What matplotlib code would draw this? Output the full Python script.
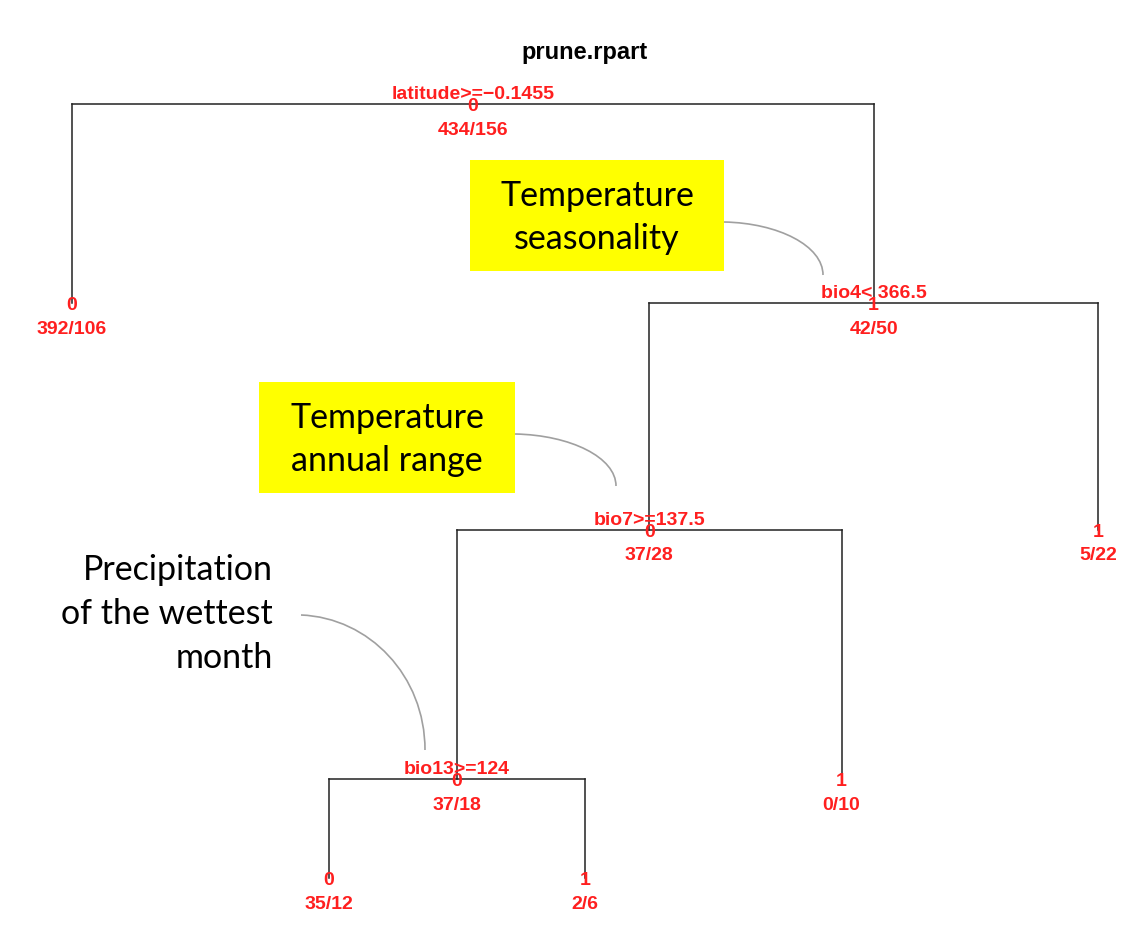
import matplotlib.pyplot as plt
from matplotlib.path import Path
from matplotlib.patches import PathPatch, Rectangle

# rpart tree (node numbering as in rpart: children of n are 2n and 2n+1)
node_ids = [1, 2, 3, 6, 7, 12, 13, 24, 25]
split_labels = {1: "latitude>=\u22120.1455", 3: "bio4< 366.5",
                6: "bio7>=137.5", 12: "bio13>=124"}
class_labels = ["0", "0", "1", "0", "1", "0", "1", "0", "1"]
counts = ["434/156", "392/106", "42/50", "37/28", "5/22",
          "37/18", "0/10", "35/12", "2/6"]
# node heights in tree units (non-uniform spacing from plot.rpart)
node_y = [1.0, 0.743, 0.743, 0.450, 0.450, 0.128, 0.128, 0.0, 0.0]

labels = dict(zip(node_ids, class_labels))
ns = dict(zip(node_ids, counts))
ys = dict(zip(node_ids, node_y))

# leaves spaced evenly left-to-right, parents sit midway over children
xs = {}
leaf_pos = [0]


def layout(n):
    if 2 * n not in ys:
        leaf_pos[0] += 1
        xs[n] = leaf_pos[0]
    else:
        layout(2 * n)
        layout(2 * n + 1)
        xs[n] = (xs[2 * n] + xs[2 * n + 1]) / 2


layout(1)

W, H = 1128, 938
fig = plt.figure(figsize=(W / 100, H / 100), dpi=100)
ax = fig.add_axes([0, 0, 1, 1])
ax.set_xlim(0.719, 5.117)
ax.set_ylim(-0.0775, 1.134)
ax.axis("off")

red = "#ff1f1f"
font = "Liberation Sans"

for n in node_ids:
    x, y = xs[n], ys[n]
    if n in split_labels:
        l, r = 2 * n, 2 * n + 1
        ax.plot([xs[l], xs[r]], [y, y], color="#222222", lw=1.1)
        ax.plot([xs[l], xs[l]], [y, ys[l]], color="#222222", lw=1.1)
        ax.plot([xs[r], xs[r]], [y, ys[r]], color="#222222", lw=1.1)
        ax.annotate(split_labels[n], (x, y), xytext=(0, 3.5), textcoords="offset points",
                    ha="center", va="baseline", color=red, fontsize=14,
                    fontweight="bold", family=[font, "DejaVu Sans"])
    ax.annotate(labels[n], (x, y), xytext=(0, -2), textcoords="offset points",
                ha="center", va="center", color=red, fontsize=14,
                fontweight="bold", family=font)
    ax.annotate(ns[n], (x, y), xytext=(0, -19), textcoords="offset points",
                ha="center", va="center", color=red, fontsize=14,
                fontweight="bold", family=font)

fig.text(585 / W, 1 - 52 / H, "prune.rpart", ha="center", va="center",
         fontsize=17, fontweight="bold", family=font)


def px(x, y):
    return (x / W, 1 - y / H)


# annotation boxes
for (x0, y0, x1, y1), txt in [((470, 160, 724, 271), "Temperature\nseasonality"),
                              ((259, 382, 515, 493), "Temperature\nannual range")]:
    fig.patches.append(Rectangle(px(x0, y1), (x1 - x0) / W, (y1 - y0) / H,
                                 transform=fig.transFigure, facecolor="#ffff00",
                                 edgecolor="none", zorder=0))
    cx, cy = px((x0 + x1) / 2, (y0 + y1) / 2 + 2)
    fig.text(cx, cy, txt, ha="center", va="center", fontsize=24.5, family="Lato",
             linespacing=1.45)

fig.text(*px(273, 614), "Precipitation\nof the wettest\nmonth", ha="right",
         va="center", fontsize=24.5, family="Lato", linespacing=1.45)

# connector curves
for (x0, y0), (x1, y1) in [((724, 222), (823, 275)),
                           ((515, 434), (616, 486)),
                           ((301, 615), (425, 750))]:
    dx, dy = x1 - x0, y1 - y0
    pts = [px(x0, y0), px(x0 + 0.55 * dx, y0 + 0.02 * dy),
           px(x1, y1 - 0.55 * dy), px(x1, y1)]
    path = Path(pts, [Path.MOVETO, Path.CURVE4, Path.CURVE4, Path.CURVE4])
    fig.patches.append(PathPatch(path, transform=fig.transFigure, facecolor="none",
                                 edgecolor="#a0a0a0", lw=1.2))

fig.savefig("out.png", dpi=100)
